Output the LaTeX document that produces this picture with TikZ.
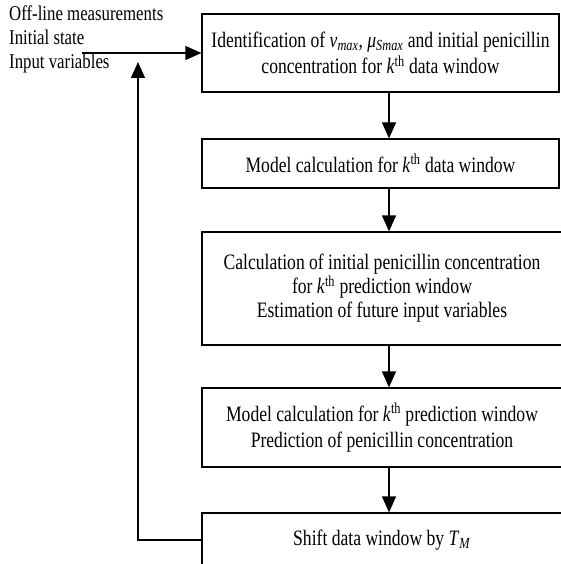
\documentclass[tikz,border=0pt]{standalone}
\usepackage{fontspec}
\setmainfont[FakeStretch=0.8]{Liberation Serif}
\usetikzlibrary{arrows.meta}
\tikzset{
  stage/.style = {draw, line width=1.2pt, align=center, inner sep=0pt,
                  font=\fontsize{22}{24}\selectfont},
  flow/.style  = {line width=1.2pt, -{Triangle[length=16pt,width=14pt]}},
  feed/.style  = {line width=1.2pt}
}
\newcommand{\kth}{\textit{k}\textsuperscript{th}}
\newcommand{\isub}[2]{\textit{#1}\textsubscript{\textit{#2}}}

\begin{document}
\begin{tikzpicture}[x=1pt,y=-1pt]
	\useasboundingbox (0,0) rectangle (560,564);
	\def \ax{389}

	% Inputs
	\node[anchor=west, align=left, inner sep=0pt,
	      font=\fontsize{21}{24}\selectfont] (inputs) at (9,39)
	      {Off-line measurements\\Initial state\\Input variables};
	\coordinate (src) at (82,53);

	% Stages
	\node[stage, minimum width=357, minimum height=78] (ident) at (380.5,53)
	      {Identification of \isub{v}{max}, \isub{μ}{Smax} and initial penicillin\\[2pt]
	       concentration for \kth{} data window};
	\node[stage, minimum width=357, minimum height=49] (model) at (380.5,163.5)
	      {Model calculation for \kth{} data window};
	\node[stage, minimum width=360, minimum height=113] (calc) at (382,288.5)
	      {Calculation of initial penicillin concentration\\
	       for \kth{} prediction window\\
	       Estimation of future input variables};
	\node[stage, minimum width=360, minimum height=79] (pred) at (382,427.5)
	      {Model calculation for \kth{} prediction window\\[2pt]
	       Prediction of penicillin concentration};
	\node[stage, minimum width=360, minimum height=54] (shift) at (382,540)
	      {Shift data window by \isub{T}{M}};

	% Arrows
	\draw[flow] (src) -- (ident.west);
	\draw[flow] (ident.south -| \ax,0) -- (model.north -| \ax,0);
	\draw[flow] (model.south -| \ax,0) -- (calc.north -| \ax,0);
	\draw[flow] (calc.south -| \ax,0) -- (pred.north -| \ax,0);
	\draw[flow] (pred.south -| \ax,0) -- (shift.north -| \ax,0);

	% Feedback
	\coordinate (back) at (138,62);
	\draw[flow] (shift.west) -| (back);
\end{tikzpicture}
\end{document}
